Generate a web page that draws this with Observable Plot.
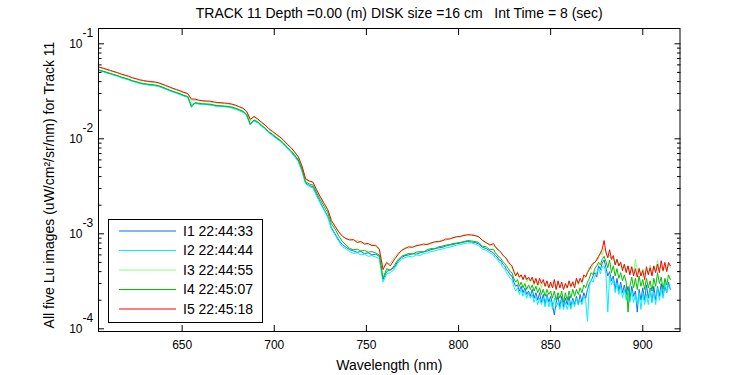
<!DOCTYPE html>
<html>
<head>
<meta charset="utf-8">
<script src="https://cdn.jsdelivr.net/npm/d3@7"></script>
<script src="https://cdn.jsdelivr.net/npm/@observablehq/plot@0.6"></script>
<style>
  html, body { margin: 0; padding: 0; background: #ffffff; }
  #chart { width: 750px; height: 375px; }
</style>
</head>
<body>
<div id="chart"></div>
<script>
// ---- data (values in units of 1e-4 uW/cm^2/sr/nm) ----
const UNIT = 1e-4;
const wavelength = [605,607,609,611,613,615,617,619,621,623,625,627,629,631,633,635,637,639,641,643,645,647,649,651,653,655,657,659,661,663,665,667,669,671,673,675,677,679,681,683,685,687,689,691,693,695,697,699,701,703,705,707,709,711,713,715,717,719,721,723,725,727,729,731,733,735,737,739,741,743,745,747,749,751,753,755,757,759,761,763,765,767,769,771,773,775,777,779,781,783,785,787,789,791,793,795,797,799,801,803,805,807,809,811,813,815,817,819,
820,821,822,823,824,825,826,827,828,829,830,831,832,833,834,835,836,837,838,839,840,841,842,843,844,845,846,847,848,849,850,851,852,853,854,855,856,857,858,859,860,861,862,863,864,865,866,867,868,869,870,871,872,873,874,875,876,877,878,879,880,881,882,883,884,885,886,887,888,889,890,891,892,893,894,895,896,897,898,899,900,901,902,903,904,905,906,907,908,909,910,911,912,913,914,915];

const seriesNames = ["I1 22:44:33", "I2 22:44:44", "I3 22:44:55", "I4 22:45:07", "I5 22:45:18"];
const seriesColors = ["#0a6ef0", "#00f0ff", "#80ff80", "#00c000", "#ff0000"];

const I1 = [525,513,499,485,472,459,444,432,420,406,
397,386,378,373,368,366,359,348,336,324,
314,304,295,284,277,225,238,234,232,230,
229,225,221,220,219,217,213,207,200,192,
178,140,156,149,138,128,117,110,102,96,
88.5,80,73.8,66.5,59,46.5,34.2,32.3,31.2,25.6,
21.4,18.1,15.3,11.6,10.0,8.6,7.7,7.2,
6.8,6.6,6.4,6.5,6.2,6.3,6.0,6.1,5.8,3.3,
4.0,4.2,4.4,5.1,5.6,5.9,6.0,6.2,6.1,6.3,
6.5,6.6,6.8,7.0,7.1,7.2,7.4,7.6,7.7,7.9,
8.0,8.2,8.3,8.2,8.1,7.8,7.2,7.0,6.6,6.3,
5.9,5.7,5.3,5.2,4.8,4.6,4.2,4.0,3.7,3.6,
3.1,2.8,2.9,2.5,2.8,2.4,2.7,2.3,2.5,2.2,
2.6,2.1,2.4,2.0,2.4,1.9,2.3,1.8,2.3,1.9,
2.2,1.8,1.4,1.9,2.2,1.7,2.2,1.7,2.1,1.8,
2.2,1.7,2.1,1.8,2.2,1.8,2.3,1.9,2.4,2.1,
2.6,3.0,3.2,3.6,3.9,3.5,4.6,4.2,4.9,5.3,
4.4,3.6,4.0,3.2,3.6,2.6,3.4,2.5,3.1,2.4,
2.9,2.3,2.8,2.0,2.8,2.2,2.5,1.5,2.6,2.0,
2.7,2.0,2.9,2.1,2.7,1.9,2.8,2.0,2.8,2.2,
3.0,2.2,2.8,2.4,3.1,2.6];

const I2 = [521,508,494,481,467,455,439,428,416,402,
393,382,375,370,365,362,356,345,333,321,
311,301,292,281,274,228,236,232,230,228,
227,223,219,218,217,215,211,205,198,190,
176,142,154,147,136,127,116,108,101,94.5,
87,78.8,72.5,65,57.5,45.5,33.6,31.5,30.3,25.0,
20.9,17.7,15.0,11.3,9.7,8.3,7.3,6.9,
6.5,6.2,6.3,6.0,6.1,5.8,5.9,5.7,5.5,3.1,
3.8,3.9,4.2,4.9,5.4,5.6,5.8,5.7,6.0,5.9,
6.2,6.3,6.5,6.6,6.8,6.9,7.1,7.2,7.4,7.6,
7.7,7.9,8.0,8.0,7.8,7.5,6.9,6.7,6.3,6.0,
5.6,5.4,5.0,4.9,4.4,4.3,3.9,3.7,3.4,3.3,
2.8,2.5,2.7,2.3,2.6,2.2,2.5,2.1,2.4,2.1,
2.3,1.9,2.2,1.8,2.1,1.8,2.1,1.7,2.2,1.7,
2.0,1.6,2.1,1.7,1.9,1.6,2.0,1.6,1.9,1.6,
1.9,1.6,2.0,1.7,2.1,1.8,2.0,1.8,2.2,2.0,
1.2,2.8,3.3,3.1,3.6,3.9,4.3,3.8,4.5,4.6,
3.8,1.5,3.6,2.9,3.3,2.4,3.0,2.3,2.8,2.1,
2.6,2.0,2.5,1.9,2.5,1.9,2.3,1.8,2.4,1.6,
2.4,1.8,2.3,1.8,2.6,1.9,2.4,1.8,2.7,2.0,
2.6,2.1,3.2,2.4,2.9,2.6];

const I3 = [560,548,532,517,503,490,473,461,448,434,
423,412,404,399,394,391,384,372,360,347,
335,325,315,303,296,250,257,251,248,246,
245,241,237,236,234,232,228,222,214,207,
191,154,169,159,148,138,126,118,110,103,
95.5,86.5,80,72,64,51,37.5,35.5,34.5,28.6,
24.2,20.8,17.9,13.7,11.9,10.4,9.5,8.8,
8.9,8.4,8.6,7.9,8.1,7.6,7.8,7.3,7.0,4.5,
4.8,4.9,5.6,6.3,6.5,7.2,7.0,7.4,7.3,7.8,
7.5,7.9,7.8,8.3,8.1,8.6,8.5,9.0,8.9,9.4,
9.2,9.8,9.6,10.0,9.5,9.2,8.7,7.9,7.8,7.4,
7.3,7.1,6.5,6.2,6.0,5.8,5.4,4.9,4.6,4.4,
4.2,3.7,4.0,3.4,3.7,3.3,3.5,3.1,3.4,3.1,
3.3,2.9,3.2,2.8,3.1,2.7,3.1,2.8,2.9,2.7,
3.0,2.7,2.9,2.6,3.1,2.7,2.9,2.6,3.0,2.7,
3.0,2.7,3.2,2.9,3.3,2.9,3.2,3.0,3.4,3.6,
4.0,4.5,4.2,4.8,5.0,5.6,5.4,6.6,6.0,7.0,
6.5,5.6,6.0,5.3,5.6,4.8,5.3,4.6,5.1,4.3,
4.7,4.0,4.6,3.9,4.5,3.8,5.4,4.1,4.4,3.6,
4.3,3.7,4.2,3.8,4.7,3.9,4.5,4.1,5.3,4.3,
4.6,4.0,4.5,4.1,4.8,4.4];

const I4 = [528,516,502,488,474,462,446,435,423,409,
400,389,381,377,372,369,363,352,339,327,
316,307,298,286,279,215,240,237,234,233,
232,228,224,223,221,219,216,210,203,195,
181,143,158,151,140,130,119,112,104,97.7,
90.2,81.8,75.3,67.9,60.5,48.4,35.3,33.5,32.6,27.0,
22.8,19.5,16.7,12.8,11.2,9.5,8.3,7.6,
7.0,6.8,6.9,6.6,6.7,6.4,6.5,6.3,6.0,3.4,
4.3,4.1,4.6,5.3,5.8,6.0,6.2,6.1,6.4,6.5,
6.4,6.8,7.0,6.9,7.3,7.4,7.6,7.7,7.9,8.0,
8.1,8.3,8.5,8.4,8.3,8.1,7.4,7.3,6.8,6.9,
6.3,6.0,5.7,5.5,5.1,4.9,4.6,4.3,4.0,3.9,
3.4,3.1,3.3,2.8,3.1,2.7,3.0,2.6,2.9,2.6,
2.9,2.5,2.8,2.4,2.7,2.3,2.6,2.2,2.6,2.3,
2.5,2.1,2.5,2.0,2.4,2.1,2.5,1.9,2.4,2.0,
2.5,2.1,2.6,2.2,2.6,2.3,2.7,2.4,2.9,2.7,
3.1,3.4,3.9,3.7,4.3,4.6,5.0,4.7,5.4,5.8,
5.1,4.4,5.3,3.9,4.6,3.6,4.3,3.4,3.9,3.2,
3.7,3.1,1.5,2.8,3.5,2.7,3.4,2.6,3.6,2.8,
3.3,2.6,3.4,2.7,3.2,2.5,3.4,2.8,3.9,3.0,
3.5,2.6,3.4,2.9,3.7,3.3];

const I5 = [568,555,540,525,510,497,480,468,455,440,
430,418,410,405,400,397,390,378,365,352,
340,330,320,308,300,262,262,255,252,250,
249,245,241,240,238,236,232,226,218,210,
195,160,172,162,150,140,128,120,112,105,
97,88,81,73,65,52,38,36,35,29,
24.5,21,18,13.8,12,10.5,9.4,8.9,
8.6,8.7,8.1,8.3,7.8,7.9,7.5,7.6,6.9,4.2,
5.0,4.6,5.3,6.0,6.7,7.0,7.3,7.2,7.5,7.6,
7.8,7.7,8.0,8.2,8.3,8.4,8.8,8.8,9.1,9.3,
9.4,9.6,9.8,9.7,9.6,9.3,8.5,8.1,7.6,7.9,
7.3,6.9,6.7,6.4,6.0,5.7,5.5,5.1,4.8,4.6,
4.0,3.6,3.9,3.5,3.7,3.3,3.7,3.3,3.5,3.2,
3.5,3.0,3.4,2.9,3.4,3.0,3.3,2.8,3.2,2.7,
3.1,2.7,3.3,2.6,3.2,2.7,3.1,2.6,3.0,2.7,
3.2,2.8,3.1,2.7,3.4,3.0,3.4,3.1,3.7,3.5,
3.9,4.2,4.6,4.9,5.0,5.3,5.8,6.2,6.9,8.5,
6.4,5.6,6.8,5.4,5.9,4.7,5.4,4.6,5.0,4.1,
4.8,3.9,4.6,3.7,4.5,3.6,4.3,3.5,4.3,3.6,
4.1,3.3,4.5,3.7,4.4,3.6,4.6,3.9,4.8,3.9,
5.2,4.1,5.0,4.0,5.0,4.6];

const xTicks = [650, 700, 750, 800, 850, 900];
const yMajorTicks = [1e-4, 1e-3, 1e-2, 1e-1];
const yTickBase = ["10", "10", "10", "10"];
const yTickExponent = ["-4", "-3", "-2", "-1"];
const yMinorTicks = [2e-4,3e-4,4e-4,5e-4,6e-4,7e-4,8e-4,9e-4,
                     2e-3,3e-3,4e-3,5e-3,6e-3,7e-3,8e-3,9e-3,
                     2e-2,3e-2,4e-2,5e-2,6e-2,7e-2,8e-2,9e-2];

const titleText = "TRACK 11 Depth =0.00 (m) DISK size =16 cm   Int Time = 8 (sec)";
const xLabel = "Wavelength (nm)";
const yLabel = "All five Lu images (uW/cm\u00B2/sr/nm) for Track 11";

// ---- build table ----
const seriesValues = [I1, I2, I3, I4, I5];
const rows = [];
seriesValues.forEach((vals, s) => {
  vals.forEach((v, i) => rows.push({series: seriesNames[s], wavelength: wavelength[i], value: v * UNIT}));
});

const FONT = "'Liberation Sans', Arial, Helvetica, sans-serif";
const blank = () => "";

const marks = [];
seriesNames.forEach(name => {
  marks.push(Plot.line(rows.filter(r => r.series === name), {
    x: "wavelength", y: "value", stroke: "series", strokeWidth: 1
  }));
});
marks.push(
  Plot.frame({stroke: "black", strokeWidth: 1}),
  // x ticks (inward) bottom with labels, top without
  Plot.axisX({anchor: "bottom", ticks: xTicks, tickSize: -6, tickPadding: 15, label: null, fontSize: 12}),
  Plot.axisX({anchor: "top", ticks: xTicks, tickSize: -6, tickFormat: blank, label: null}),
  // y ticks inward on both sides
  Plot.axisY({anchor: "left", ticks: yMajorTicks, tickSize: -6, tickFormat: blank, label: null}),
  Plot.axisY({anchor: "left", ticks: yMinorTicks, tickSize: -3.5, tickFormat: blank, label: null}),
  Plot.axisY({anchor: "right", ticks: yMajorTicks, tickSize: -6, tickFormat: blank, label: null}),
  Plot.axisY({anchor: "right", ticks: yMinorTicks, tickSize: -3.5, tickFormat: blank, label: null}),
  // y tick labels 10^k
  Plot.text(yMajorTicks, {y: d => d, frameAnchor: "left", text: (d, i) => yTickBase[i], textAnchor: "end", dx: -16, fontSize: 12}),
  Plot.text(yMajorTicks, {y: d => d, frameAnchor: "left", text: (d, i) => yTickExponent[i], textAnchor: "start", dx: -16, dy: -11, fontSize: 12}),
  // labels and title
  Plot.text([xLabel], {text: d => d, frameAnchor: "bottom", dy: 34, fontSize: 14, lineAnchor: "middle", textAnchor: "middle"}),
  Plot.text([yLabel], {text: d => d, frameAnchor: "left", rotate: -90, dx: -49, dy: 5, fontSize: 14, lineAnchor: "middle", textAnchor: "middle"}),
  Plot.text([titleText], {text: d => d, frameAnchor: "top", dy: -15, dx: 10, fontSize: 14, lineAnchor: "middle", textAnchor: "middle"})
);

const chart = Plot.plot({
  width: 750,
  height: 375,
  marginLeft: 98,
  marginRight: 70.5,
  marginTop: 28,
  marginBottom: 44,
  style: {fontFamily: FONT, fontSize: "12px", background: "#ffffff", color: "#000000", overflow: "visible"},
  x: {domain: [604.6, 920.2]},
  y: {type: "log", domain: [0.937e-4, 0.1449]},
  color: {domain: seriesNames, range: seriesColors},
  marks
});
document.getElementById("chart").appendChild(chart);

// ---- legend box ----
const color = chart.scale("color");
const svg = d3.select(chart);
const lg = svg.append("g").attr("class", "legend").attr("font-family", FONT).attr("font-size", 14)
  .attr("text-anchor", "start");
lg.append("rect").attr("x", 108.5).attr("y", 219.5).attr("width", 154).attr("height", 103)
  .attr("fill", "#ffffff").attr("stroke", "#000000").attr("stroke-width", 1);
const rowY = [231, 250.5, 270, 289.5, 309];
seriesNames.forEach((name, i) => {
  lg.append("line").attr("x1", 119).attr("x2", 176).attr("y1", rowY[i]).attr("y2", rowY[i])
    .attr("stroke", color.apply(name)).attr("stroke-width", 1.2);
  lg.append("text").attr("x", 183).attr("y", rowY[i]).attr("dy", "0.35em")
    .attr("text-anchor", "start").attr("fill", "#000").text(name);
});
</script>
</body>
</html>
